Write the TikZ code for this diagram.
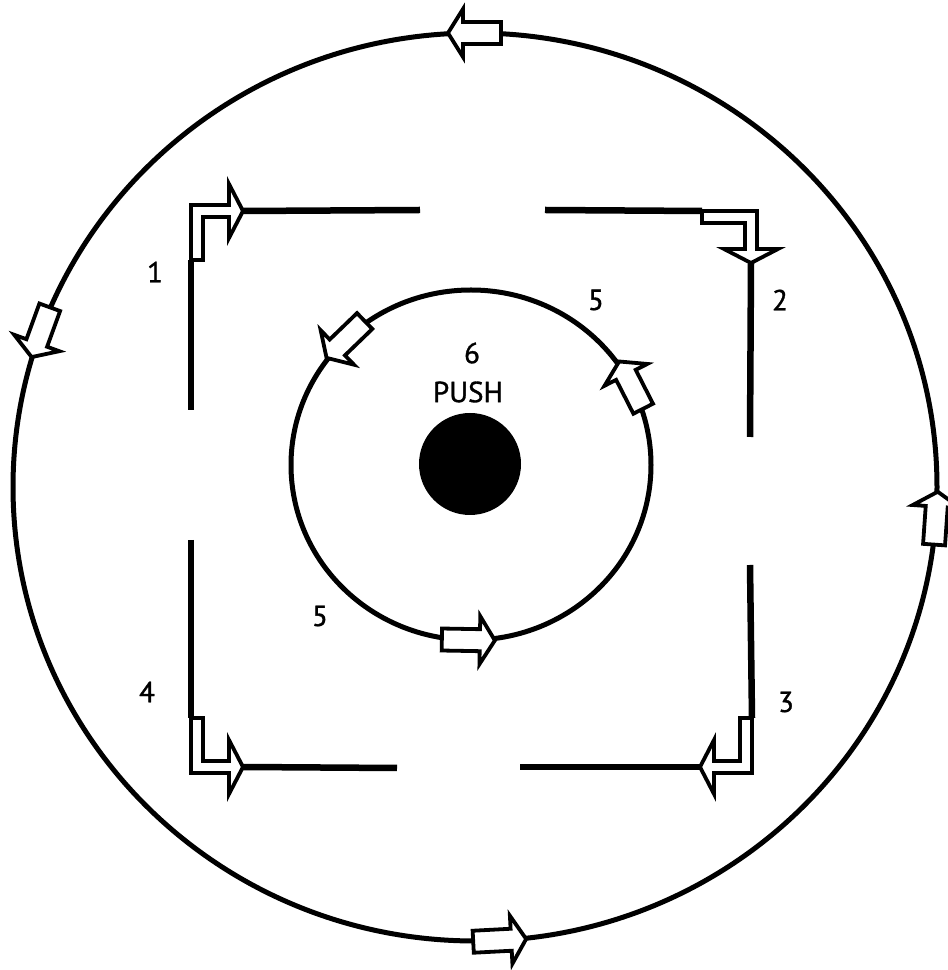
\documentclass[tikz,border=0pt]{standalone}
\usepackage{fontspec}
\setmainfont{PT Sans}
\newfontfamily\labelfont{PT Sans}[FakeBold=1.2]
\tikzset{
  wall/.style={line width=6.5pt, line cap=butt},
  ring/.style={line width=5pt},
  flowarrow/.style={draw, fill=white, line width=3.8pt, line join=miter},
  num/.style={font=\labelfont\fontsize{29}{29}\selectfont, inner sep=0pt},
  pics/hollow/.style={code={
    \draw[flowarrow] (-26,-11) -- (12,-11) -- (12,-24) -- (27,0) -- (12,24) -- (12,11) -- (-26,11) -- cycle;}},
  pics/bend/.style={code={
    \draw[flowarrow] (0,-55) -- (0,0) -- (38,0) -- (38,21) -- (52,-6) -- (38,-33) -- (38,-12) -- (12,-12) -- (12,-55) -- cycle;}}
}
\begin{document}
\begin{tikzpicture}[x=1pt, y=1pt]
  \useasboundingbox (0,0) rectangle (948,970);

  % Outer ring
  \coordinate (outer) at (475,483);
  \draw[ring] (outer) ellipse [x radius=462, y radius=454];
  \path (outer) ++(90:462 and 454) pic[rotate=180] {hollow};
  \path (outer) ++(160:462 and 454) pic[rotate=250] {hollow};
  \path (outer) ++(-4:462 and 454) pic[rotate=86] {hollow};
  \path (outer) ++(-87:462 and 454) pic[rotate=3] {hollow};

  % Square with gaps
  \draw[wall] (191,710) -- (191,560);
  \draw[wall] (243,759) -- (420,760);
  \draw[wall] (545,760) -- (702,759);
  \draw[wall] (751,707) -- (750,533);
  \draw[wall] (750,405) -- (752,252);
  \draw[wall] (700,203) -- (520,203);
  \draw[wall] (397,202) -- (243,203);
  \draw[wall] (191,430) -- (191,252);

  % Corner arrows
  \pic at (191,765) {bend};
  \pic[rotate=-90] at (757,759) {bend};
  \pic[rotate=180] at (752,197) {bend};
  \pic[yscale=-1] at (191,197) {bend};

  % Inner ring
  \coordinate (inner) at (471,505);
  \draw[ring] (inner) ellipse [x radius=180, y radius=175];
  \path (inner) ++(134:180 and 175) pic[rotate=224] {hollow};
  \path (inner) ++(27:180 and 175) pic[rotate=117] {hollow};
  \path (inner) ++(-91:180 and 175) pic[rotate=-1] {hollow};

  % Push button
  \fill (470,506) circle (51);

  % Labels
  \node[num] (one) at (155,698) {1};
  \node[num] (two) at (780,670) {2};
  \node[num] (three) at (786,268) {3};
  \node[num] (four) at (147,278) {4};
  \node[num] (fiveup) at (596,670) {5};
  \node[num] (fivelow) at (320,354) {5};
  \node[num] (six) at (472,617) {6};
  \node[num] (push) at (468,578) {PUSH};
\end{tikzpicture}
\end{document}
